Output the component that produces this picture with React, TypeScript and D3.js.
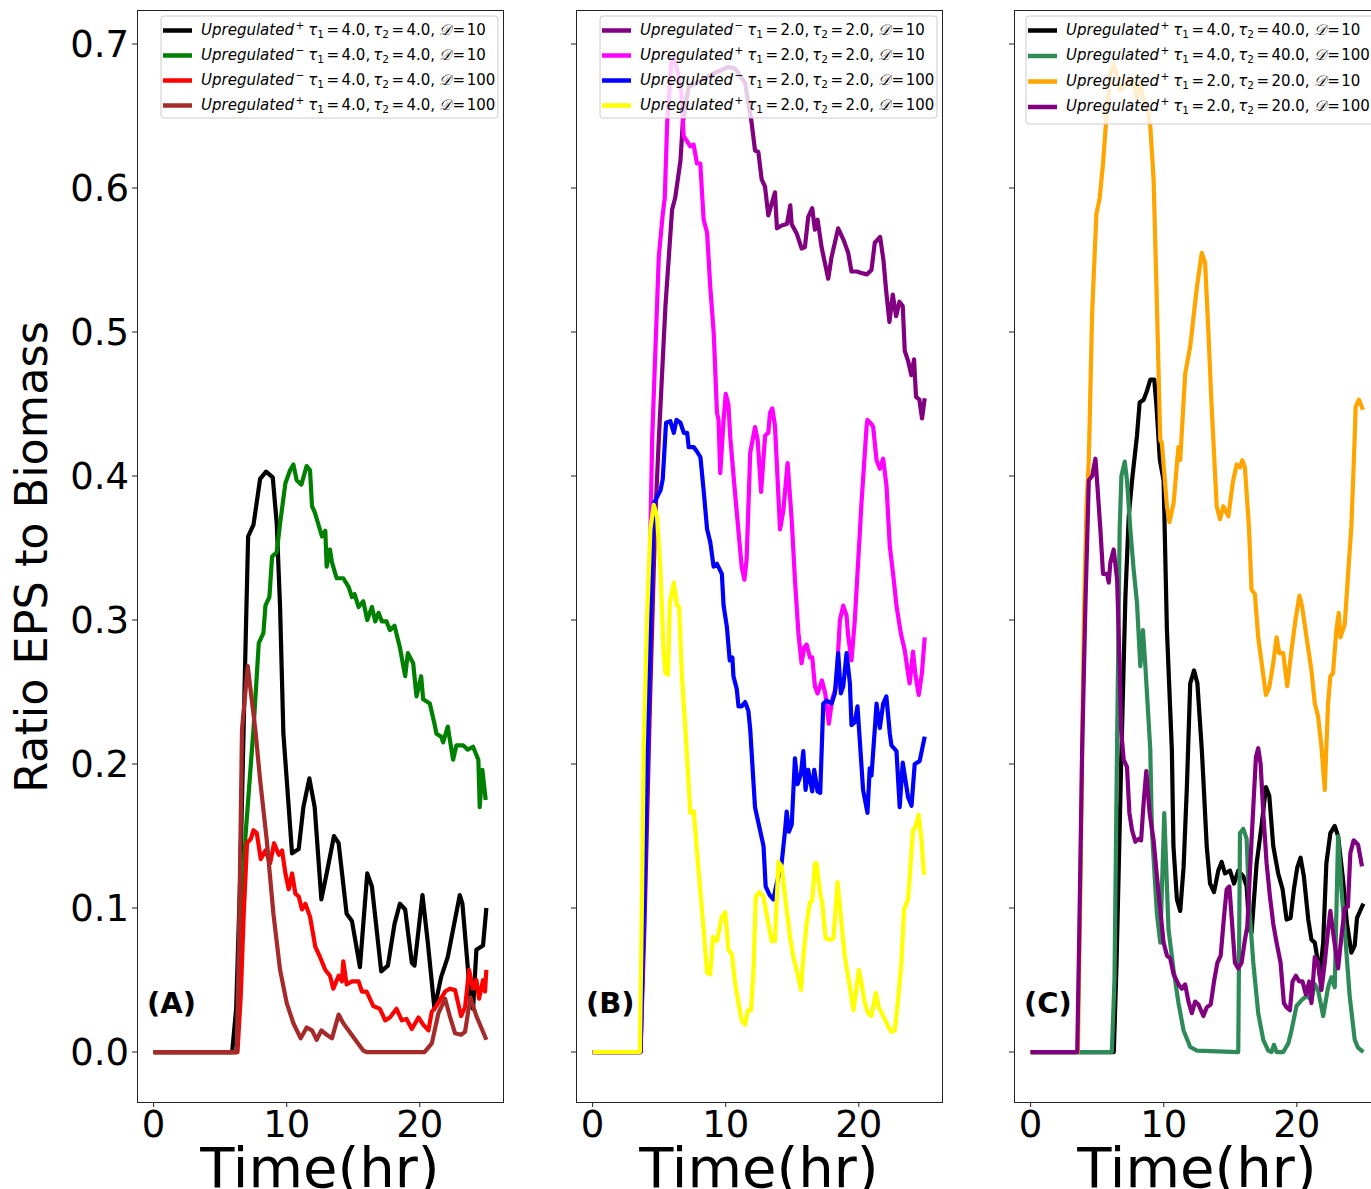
import React from "react";
import * as d3 from "d3";

// ---------- DATA (time in hr, ratio EPS to biomass) ----------
const A_black: [number, number][] = [[0,0],[5.9,0],[6.2,0.03],[6.5,0.12],[6.75,0.22],[6.95,0.3],[7.1,0.358],[7.5,0.366],[8.0,0.398],[8.45,0.403],[8.95,0.399],[9.25,0.367],[9.5,0.309],[9.75,0.221],[10.4,0.138],[10.9,0.141],[11.25,0.17],[11.7,0.19],[12.1,0.17],[12.6,0.106],[13.0,0.124],[13.55,0.15],[13.9,0.145],[14.5,0.096],[14.9,0.091],[15.5,0.059],[16.05,0.124],[16.4,0.115],[17.1,0.056],[17.6,0.06],[18.1,0.089],[18.5,0.103],[18.9,0.099],[19.4,0.062],[19.6,0.06],[20.2,0.109],[20.6,0.076],[21.1,0.03],[21.6,0.052],[22.1,0.066],[23.0,0.109],[23.2,0.103],[23.85,0.032],[24.0,0.03],[24.25,0.071],[24.75,0.074],[25.0,0.1]];
const A_green: [number, number][] = [[0,0],[6.25,0],[6.6,0.07],[6.9,0.15],[7.5,0.224],[7.9,0.284],[8.25,0.291],[8.4,0.31],[8.7,0.316],[8.9,0.344],[9.25,0.347],[9.5,0.367],[9.9,0.395],[10.25,0.404],[10.5,0.408],[10.75,0.397],[11.1,0.394],[11.5,0.407],[11.75,0.404],[11.9,0.379],[12.1,0.375],[12.65,0.358],[12.9,0.362],[13.0,0.337],[13.25,0.349],[13.4,0.34],[13.75,0.329],[14.25,0.329],[14.65,0.323],[14.9,0.316],[15.1,0.318],[15.4,0.309],[15.75,0.313],[16.05,0.3],[16.4,0.309],[16.65,0.299],[16.9,0.305],[17.15,0.299],[17.5,0.299],[17.75,0.293],[18.1,0.296],[18.5,0.281],[18.9,0.261],[19.1,0.277],[19.5,0.27],[19.75,0.247],[20.1,0.261],[20.25,0.245],[20.75,0.242],[21.1,0.228],[21.25,0.221],[21.6,0.219],[21.75,0.215],[22.1,0.226],[22.5,0.203],[22.75,0.213],[23.25,0.213],[23.6,0.21],[24.0,0.212],[24.4,0.203],[24.5,0.17],[24.7,0.196],[24.95,0.175]];
const A_red: [number, number][] = [[0,0],[6.3,0],[6.55,0.04],[6.77,0.096],[7.02,0.145],[7.3,0.148],[7.5,0.154],[7.75,0.152],[8.05,0.134],[8.4,0.14],[8.75,0.131],[9.05,0.145],[9.4,0.137],[9.65,0.14],[9.9,0.124],[10.15,0.113],[10.4,0.124],[10.65,0.11],[10.9,0.108],[11.15,0.099],[11.4,0.103],[11.75,0.094],[12.15,0.073],[12.5,0.066],[12.9,0.057],[13.25,0.053],[13.5,0.044],[13.9,0.053],[14.15,0.049],[14.25,0.063],[14.5,0.047],[14.9,0.049],[15.4,0.049],[15.65,0.042],[16.0,0.042],[16.5,0.032],[17.0,0.03],[17.4,0.022],[17.75,0.024],[18.25,0.03],[18.65,0.022],[19.0,0.023],[19.4,0.016],[19.9,0.024],[20.25,0.019],[20.65,0.015],[20.9,0.028],[21.25,0.032],[21.9,0.042],[22.25,0.044],[22.65,0.043],[23.1,0.025],[23.4,0.031],[23.7,0.057],[24.0,0.044],[24.25,0.05],[24.45,0.037],[24.75,0.05],[24.9,0.042],[25.0,0.057]];
const A_brown: [number, number][] = [[0,0],[6.25,0],[6.45,0.1],[6.64,0.224],[7.07,0.268],[7.64,0.224],[8.0,0.189],[8.5,0.147],[9.0,0.096],[9.5,0.057],[10.0,0.034],[10.5,0.02],[11.05,0.0095],[11.5,0.017],[11.9,0.015],[12.25,0.0085],[12.6,0.015],[13.0,0.012],[13.4,0.0095],[13.9,0.026],[14.25,0.02],[14.65,0.015],[15.15,0.0085],[15.75,0.001],[16,0],[20.35,0],[20.9,0.006],[21.4,0.027],[21.9,0.037],[22.25,0.025],[22.65,0.013],[23.1,0.012],[23.4,0.014],[23.8,0.038],[24.25,0.025],[25.0,0.0085]];

const B_purple: [number, number][] = [[0,0],[3.6,0],[3.9,0.09],[4.3,0.24],[4.7,0.37],[4.97,0.425],[5.47,0.518],[5.97,0.585],[6.2,0.593],[6.6,0.619],[6.77,0.645],[7.2,0.67],[8.2,0.675],[9.2,0.68],[10.2,0.684],[10.7,0.683],[11.45,0.673],[11.95,0.645],[12.2,0.626],[12.45,0.625],[12.7,0.606],[12.95,0.601],[13.2,0.581],[13.45,0.589],[13.7,0.597],[13.85,0.572],[14.2,0.574],[14.6,0.575],[14.85,0.588],[14.95,0.575],[15.35,0.568],[15.7,0.558],[15.95,0.559],[16.2,0.58],[16.5,0.586],[16.7,0.571],[16.9,0.578],[17.2,0.559],[17.7,0.537],[17.95,0.552],[18.45,0.572],[18.85,0.564],[19.2,0.555],[19.45,0.542],[19.85,0.542],[20.2,0.541],[20.6,0.54],[20.95,0.543],[21.2,0.562],[21.6,0.566],[21.85,0.55],[22.05,0.529],[22.3,0.507],[22.55,0.526],[22.8,0.511],[23.05,0.521],[23.3,0.518],[23.45,0.487],[23.7,0.48],[23.95,0.47],[24.15,0.481],[24.3,0.455],[24.55,0.453],[24.75,0.44],[24.95,0.454]];
const B_magenta: [number, number][] = [[0,0],[3.6,0],[3.8,0.08],[3.97,0.21],[4.22,0.3],[4.47,0.425],[4.97,0.552],[5.27,0.582],[5.42,0.593],[5.6,0.645],[5.9,0.687],[6.1,0.69],[6.4,0.68],[6.67,0.666],[6.84,0.636],[7.34,0.629],[7.59,0.63],[7.84,0.617],[8.09,0.617],[8.34,0.578],[8.6,0.569],[8.84,0.531],[9.1,0.499],[9.34,0.444],[9.46,0.439],[9.59,0.402],[9.84,0.439],[10.0,0.457],[10.2,0.45],[10.34,0.427],[10.7,0.388],[11.2,0.337],[11.4,0.328],[11.57,0.342],[11.84,0.416],[12.2,0.434],[12.4,0.425],[12.66,0.389],[12.96,0.428],[13.2,0.43],[13.33,0.444],[13.5,0.447],[13.7,0.435],[14.08,0.363],[14.33,0.376],[14.65,0.409],[14.96,0.369],[15.2,0.328],[15.46,0.291],[15.7,0.27],[15.9,0.281],[16.08,0.283],[16.33,0.274],[16.5,0.274],[16.7,0.254],[16.9,0.249],[17.23,0.258],[17.48,0.249],[17.75,0.228],[18.0,0.245],[18.3,0.254],[18.58,0.3],[18.83,0.31],[19.08,0.303],[19.2,0.289],[19.45,0.272],[19.7,0.3],[20.2,0.381],[20.58,0.434],[20.65,0.439],[20.96,0.436],[21.08,0.434],[21.33,0.411],[21.58,0.405],[21.83,0.412],[22.08,0.393],[22.33,0.351],[22.6,0.33],[22.83,0.31],[23.15,0.291],[23.45,0.279],[23.7,0.263],[23.82,0.256],[24.07,0.278],[24.24,0.263],[24.5,0.248],[24.74,0.263],[24.95,0.288]];
const B_blue: [number, number][] = [[0,0],[3.6,0],[3.85,0.1],[4.1,0.21],[4.34,0.3],[4.6,0.381],[4.92,0.387],[5.1,0.39],[5.27,0.398],[5.47,0.43],[5.52,0.437],[5.84,0.438],[6.1,0.43],[6.3,0.439],[6.6,0.437],[6.85,0.43],[7.1,0.43],[7.22,0.42],[7.6,0.42],[7.84,0.417],[8.1,0.413],[8.34,0.39],[8.6,0.363],[8.84,0.354],[9.09,0.337],[9.34,0.339],[9.71,0.332],[9.84,0.31],[10.09,0.295],[10.3,0.272],[10.5,0.274],[10.58,0.261],[10.83,0.252],[10.96,0.24],[11.2,0.24],[11.46,0.243],[11.7,0.237],[11.84,0.224],[12.2,0.17],[12.58,0.154],[12.84,0.143],[13.0,0.115],[13.3,0.109],[13.58,0.106],[13.83,0.117],[14.2,0.131],[14.46,0.154],[14.58,0.167],[14.75,0.153],[14.96,0.158],[15.2,0.204],[15.4,0.186],[15.65,0.193],[15.83,0.209],[16.0,0.182],[16.2,0.196],[16.5,0.181],[16.65,0.196],[16.9,0.181],[17.1,0.18],[17.33,0.242],[17.58,0.244],[17.96,0.242],[18.2,0.249],[18.45,0.277],[18.65,0.249],[18.83,0.254],[19.08,0.277],[19.33,0.256],[19.45,0.227],[19.7,0.229],[19.9,0.24],[20.07,0.217],[20.32,0.182],[20.65,0.166],[20.82,0.197],[20.95,0.192],[21.2,0.224],[21.33,0.242],[21.58,0.225],[21.83,0.242],[22.07,0.247],[22.33,0.221],[22.45,0.213],[22.83,0.209],[23.07,0.17],[23.3,0.201],[23.7,0.177],[23.96,0.171],[24.2,0.2],[24.57,0.202],[24.95,0.219]];
const B_yellow: [number, number][] = [[0,0],[3.55,0],[3.7,0.1],[3.84,0.21],[4.09,0.3],[4.34,0.363],[4.59,0.38],[4.84,0.372],[5.09,0.335],[5.34,0.277],[5.47,0.263],[5.67,0.262],[5.8,0.312],[6.1,0.326],[6.34,0.31],[6.5,0.309],[6.7,0.263],[6.97,0.224],[7.34,0.166],[7.6,0.167],[7.96,0.126],[8.34,0.085],[8.6,0.055],[8.84,0.054],[9.04,0.08],[9.34,0.077],[9.71,0.094],[9.96,0.097],[10.2,0.071],[10.46,0.068],[10.7,0.048],[10.96,0.034],[11.2,0.022],[11.46,0.019],[11.66,0.029],[11.9,0.029],[12.09,0.057],[12.26,0.108],[12.5,0.111],[12.84,0.108],[13.1,0.094],[13.46,0.077],[13.7,0.077],[13.96,0.132],[14.2,0.129],[14.46,0.108],[14.83,0.08],[15.08,0.066],[15.33,0.057],[15.66,0.043],[15.83,0.066],[16.08,0.089],[16.33,0.104],[16.5,0.105],[16.7,0.131],[16.83,0.131],[17.1,0.11],[17.25,0.104],[17.5,0.079],[17.85,0.078],[18.1,0.079],[18.4,0.118],[18.65,0.094],[18.95,0.066],[19.33,0.045],[19.6,0.029],[20.0,0.057],[20.2,0.048],[20.45,0.034],[20.7,0.027],[20.95,0.025],[21.28,0.041],[21.5,0.031],[21.83,0.025],[22.2,0.018],[22.45,0.014],[22.7,0.015],[22.95,0.036],[23.2,0.062],[23.4,0.099],[23.7,0.106],[23.9,0.131],[24.07,0.154],[24.24,0.156],[24.5,0.165],[24.7,0.148],[24.9,0.123]];

const C_black: [number, number][] = [[0,0],[6.25,0],[6.45,0.06],[6.8,0.2],[7.12,0.316],[7.37,0.372],[7.62,0.397],[7.99,0.428],[8.19,0.451],[8.49,0.453],[8.74,0.459],[8.99,0.467],[9.29,0.467],[9.46,0.448],[9.71,0.411],[9.99,0.397],[10.24,0.293],[10.61,0.21],[10.73,0.143],[10.99,0.106],[11.24,0.098],[11.49,0.128],[11.74,0.184],[11.99,0.256],[12.28,0.265],[12.53,0.256],[12.86,0.21],[12.98,0.189],[13.23,0.143],[13.48,0.117],[13.78,0.111],[14.1,0.126],[14.35,0.132],[14.6,0.124],[14.98,0.126],[15.28,0.117],[15.6,0.126],[15.98,0.122],[16.23,0.115],[16.43,0.085],[16.6,0.083],[16.98,0.131],[17.35,0.157],[17.68,0.184],[17.93,0.178],[18.23,0.143],[18.6,0.124],[18.93,0.113],[19.23,0.092],[19.53,0.093],[19.78,0.113],[20.03,0.128],[20.28,0.135],[20.53,0.122],[20.86,0.092],[21.1,0.078],[21.35,0.076],[21.6,0.062],[21.73,0.053],[21.98,0.076],[22.22,0.131],[22.52,0.152],[22.85,0.157],[23.1,0.15],[23.47,0.12],[23.77,0.089],[24.1,0.069],[24.35,0.074],[24.52,0.093],[24.85,0.1],[25.0,0.103]];
const C_green: [number, number][] = [[0,0],[6.1,0],[6.3,0.05],[6.49,0.21],[6.69,0.363],[6.82,0.4],[7.07,0.41],[7.24,0.397],[7.49,0.363],[7.74,0.335],[7.99,0.312],[8.24,0.268],[8.44,0.293],[8.62,0.268],[8.99,0.21],[9.11,0.154],[9.49,0.096],[9.74,0.076],[10.04,0.166],[10.36,0.085],[10.74,0.057],[11.11,0.034],[11.49,0.015],[11.99,0.0035],[12.5,0.001],[15.6,0],[15.73,0.152],[15.98,0.155],[16.23,0.148],[16.43,0.1],[16.73,0.062],[17.1,0.027],[17.48,0.0085],[17.85,0.001],[18.1,0],[18.28,0.005],[18.48,0],[18.98,0],[19.36,0.006],[19.6,0.015],[19.98,0.032],[20.36,0.036],[20.73,0.039],[21.1,0.036],[21.35,0.047],[21.6,0.043],[21.98,0.025],[22.35,0.045],[22.6,0.052],[22.85,0.045],[23.1,0.15],[23.35,0.113],[23.6,0.085],[23.97,0.039],[24.35,0.0085],[24.6,0.003],[25,0]];
const C_orange: [number, number][] = [[0,0],[3.55,0],[3.75,0.12],[4.0,0.3],[4.2,0.38],[4.37,0.411],[4.62,0.513],[4.94,0.582],[5.19,0.593],[5.44,0.617],[5.7,0.65],[6.0,0.68],[6.24,0.686],[6.5,0.678],[6.69,0.668],[6.99,0.67],[7.37,0.675],[7.7,0.675],[7.94,0.663],[8.2,0.673],[8.44,0.663],[8.74,0.657],[8.99,0.643],[9.24,0.606],[9.49,0.518],[9.74,0.425],[9.86,0.423],[10.24,0.379],[10.43,0.368],[10.74,0.381],[11.1,0.42],[11.24,0.411],[11.61,0.471],[11.99,0.49],[12.49,0.531],[12.86,0.555],[13.11,0.548],[13.36,0.499],[13.6,0.448],[13.73,0.425],[13.98,0.379],[14.23,0.37],[14.48,0.379],[14.86,0.372],[15.18,0.395],[15.48,0.408],[15.73,0.406],[15.9,0.411],[16.1,0.406],[16.4,0.365],[16.6,0.321],[16.85,0.318],[17.1,0.288],[17.36,0.27],[17.68,0.248],[17.93,0.253],[18.23,0.27],[18.48,0.288],[18.68,0.277],[18.98,0.277],[19.28,0.254],[19.6,0.279],[19.93,0.302],[20.2,0.317],[20.4,0.309],[20.73,0.288],[21.1,0.265],[21.35,0.242],[21.6,0.233],[21.85,0.212],[22.1,0.182],[22.22,0.212],[22.35,0.242],[22.52,0.261],[22.72,0.263],[22.97,0.293],[23.15,0.305],[23.28,0.288],[23.6,0.297],[23.84,0.33],[24.1,0.365],[24.35,0.427],[24.42,0.448],[24.67,0.453],[24.97,0.446]];
const C_purple: [number, number][] = [[0,0],[3.5,0],[3.65,0.08],[3.87,0.21],[4.12,0.312],[4.37,0.397],[4.62,0.4],[4.87,0.412],[5.04,0.39],[5.24,0.363],[5.44,0.332],[5.74,0.332],[5.87,0.326],[5.99,0.34],[6.24,0.349],[6.5,0.328],[6.68,0.27],[6.8,0.224],[6.99,0.203],[7.24,0.198],[7.42,0.166],[7.62,0.154],[7.87,0.146],[8.12,0.148],[8.3,0.147],[8.49,0.173],[8.69,0.195],[8.94,0.166],[9.24,0.147],[9.49,0.122],[9.74,0.099],[9.99,0.076],[10.24,0.067],[10.49,0.065],[10.74,0.054],[11.11,0.047],[11.36,0.044],[11.61,0.047],[11.86,0.035],[12.11,0.027],[12.36,0.035],[12.61,0.033],[12.98,0.025],[13.23,0.031],[13.53,0.033],[13.78,0.049],[14.03,0.062],[14.28,0.067],[14.53,0.094],[14.73,0.113],[14.93,0.115],[15.1,0.094],[15.35,0.062],[15.6,0.058],[15.85,0.062],[16.1,0.078],[16.28,0.087],[16.48,0.126],[16.73,0.17],[16.93,0.205],[17.1,0.211],[17.28,0.2],[17.48,0.166],[17.73,0.131],[17.98,0.108],[18.23,0.089],[18.48,0.076],[18.78,0.062],[19.03,0.034],[19.23,0.031],[19.48,0.029],[19.68,0.049],[19.93,0.053],[20.18,0.049],[20.43,0.049],[20.68,0.04],[20.93,0.049],[21.1,0.034],[21.35,0.066],[21.6,0.062],[21.85,0.043],[22.1,0.062],[22.35,0.085],[22.52,0.098],[22.77,0.08],[23.1,0.058],[23.35,0.08],[23.6,0.1],[23.84,0.101],[24.02,0.138],[24.27,0.147],[24.6,0.144],[24.9,0.129]];

// legend parameters
const A_signs = ["+", "\u2212", "\u2212", "+"];
const A_tau1 = ["4.0", "4.0", "4.0", "4.0"];
const A_tau2 = ["4.0", "4.0", "4.0", "4.0"];
const A_D = ["10", "10", "100", "100"];
const B_signs = ["\u2212", "+", "\u2212", "+"];
const B_tau1 = ["2.0", "2.0", "2.0", "2.0"];
const B_tau2 = ["2.0", "2.0", "2.0", "2.0"];
const B_D = ["10", "10", "100", "100"];
const C_signs = ["+", "+", "+", "+"];
const C_tau1 = ["4.0", "4.0", "2.0", "2.0"];
const C_tau2 = ["40.0", "40.0", "20.0", "20.0"];
const C_D = ["10", "100", "10", "100"];

const xTicks = [0, 10, 20];
const yTicks = [0.0, 0.1, 0.2, 0.3, 0.4, 0.5, 0.6, 0.7];
const panelTags = ["(A)", "(B)", "(C)"];

// ---------- LAYOUT ----------
const W = 1371, H = 1189;
const PANEL_LEFTS = [137, 576, 1014];
const PANEL_W = 366;
const TOP = 10, BOTTOM = 1102;
const X_DOMAIN: [number, number] = [-1.25, 26.25];
const Y_DOMAIN: [number, number] = [-0.0347, 0.7236];
const FONT = "DejaVu Sans, sans-serif";
const LEG_FS = 15;

type Series = { data: [number, number][]; color: string };

const panels = [
  {
    series: [
      { data: A_black, color: "#000000" },
      { data: A_green, color: "#008000" },
      { data: A_red, color: "#ff0000" },
      { data: A_brown, color: "#a52a2a" },
    ] as Series[],
    signs: A_signs, tau1: A_tau1, tau2: A_tau2, D: A_D, legW: 337, legH: 102, rowGap: 25,
  },
  {
    series: [
      { data: B_purple, color: "#800080" },
      { data: B_magenta, color: "#ff00ff" },
      { data: B_blue, color: "#0000ff" },
      { data: B_yellow, color: "#ffff00" },
    ] as Series[],
    signs: B_signs, tau1: B_tau1, tau2: B_tau2, D: B_D, legW: 337, legH: 102, rowGap: 25,
  },
  {
    series: [
      { data: C_black, color: "#000000" },
      { data: C_green, color: "#2e8b57" },
      { data: C_orange, color: "#ffa500" },
      { data: C_purple, color: "#800080" },
    ] as Series[],
    signs: C_signs, tau1: C_tau1, tau2: C_tau2, D: C_D, legW: 349, legH: 108, rowGap: 25.5,
  },
];

function LegendLabel({ x, y, sign, t1, t2, d }: { x: number; y: number; sign: string; t1: string; t2: string; d: string }) {
  const fs = LEG_FS;
  const small = fs * 0.7;
  return (
    <text x={x} y={y} fontFamily={FONT} fontSize={fs} fill="#000" style={{ whiteSpace: "pre" }}>
      <tspan fontStyle="italic">Upregulated</tspan>
      <tspan fontSize={small} dx={1.5} dy={-6}>{sign}</tspan>
      <tspan fontStyle="italic" dx={4} dy={6}>τ</tspan>
      <tspan fontSize={small} dy={3}>1</tspan>
      <tspan dx={2.5} dy={-3}>=</tspan>
      <tspan dx={2.5}>{t1 + ","}</tspan>
      <tspan fontStyle="italic" dx={3}>τ</tspan>
      <tspan fontSize={small} dy={3}>2</tspan>
      <tspan dx={2.5} dy={-3}>=</tspan>
      <tspan dx={2.5}>{t2 + ","}</tspan>
      <tspan dx={4} fontFamily="DejaVu Serif, serif" fontStyle="italic">{"\uD835\uDC9F"}</tspan>
      <tspan dx={1.5}>=</tspan>
      <tspan dx={1.5}>{d}</tspan>
    </text>
  );
}

function Panel({ idx }: { idx: number }) {
  const p = panels[idx];
  const left = PANEL_LEFTS[idx];
  const right = left + PANEL_W;
  const x = d3.scaleLinear().domain(X_DOMAIN).range([left, right]);
  const y = d3.scaleLinear().domain(Y_DOMAIN).range([BOTTOM, TOP]);
  const line = d3
    .line<[number, number]>()
    .x((d) => x(d[0]))
    .y((d) => y(d[1]));
  const clipId = `clip${idx}`;
  const legX = right - 5 - p.legW;
  const legY = TOP + 6;
  return (
    <g>
      <defs>
        <clipPath id={clipId}>
          <rect x={left} y={TOP} width={PANEL_W} height={BOTTOM - TOP} />
        </clipPath>
      </defs>
      <rect x={left} y={TOP} width={PANEL_W} height={BOTTOM - TOP} fill="#fff" />
      <g clipPath={`url(#${clipId})`}>
        {p.series.map((s, i) => (
          <path key={i} d={line(s.data) || ""} fill="none" stroke={s.color} strokeWidth={4.2} strokeLinejoin="round" strokeLinecap="butt" />
        ))}
        {/* legend */}
        <rect x={legX} y={legY} width={p.legW} height={p.legH} rx={3} fill="#fff" fillOpacity={0.8} stroke="#cccccc" strokeWidth={1} />
        {p.series.map((s, i) => {
          const cy = legY + 14.5 + i * p.rowGap;
          return (
            <g key={i}>
              <line x1={legX + 2} x2={legX + 31} y1={cy} y2={cy} stroke={s.color} strokeWidth={4.5} />
              <LegendLabel x={legX + 40} y={cy + 4} sign={p.signs[i]} t1={p.tau1[i]} t2={p.tau2[i]} d={p.D[i]} />
            </g>
          );
        })}
      </g>
      {/* frame */}
      <rect x={left} y={TOP} width={PANEL_W} height={BOTTOM - TOP} fill="none" stroke="#222" strokeWidth={1} shapeRendering="crispEdges" />
      {/* y ticks */}
      {yTicks.map((t) => (
        <g key={t}>
          <line x1={left - 5} x2={left} y1={y(t)} y2={y(t)} stroke="#222" strokeWidth={1} />
          {idx === 0 && (
            <text x={left - 8} y={y(t) + 13} textAnchor="end" fontFamily={FONT} fontSize={37}>
              {t.toFixed(1)}
            </text>
          )}
        </g>
      ))}
      {/* x ticks */}
      {xTicks.map((t) => (
        <g key={t}>
          <line x1={x(t)} x2={x(t)} y1={BOTTOM} y2={BOTTOM + 5} stroke="#222" strokeWidth={1} />
          <text x={x(t)} y={BOTTOM + 35} textAnchor="middle" fontFamily={FONT} fontSize={37}>
            {t}
          </text>
        </g>
      ))}
      <text x={(left + right) / 2} y={1187} textAnchor="middle" fontFamily={FONT} fontSize={56}>
        Time(hr)
      </text>
      <text x={left + 10} y={1013} fontFamily={FONT} fontSize={29} fontWeight="bold">
        {panelTags[idx]}
      </text>
    </g>
  );
}

export default function App() {
  return (
    <svg width={W} height={H} style={{ position: "absolute", left: 0, top: 0, background: "#fff" }}>
      <rect x={0} y={0} width={W} height={H} fill="#fff" />
      {panels.map((_, i) => (
        <Panel key={i} idx={i} />
      ))}
      <text transform={`translate(47,557) rotate(-90)`} textAnchor="middle" fontFamily={FONT} fontSize={44.5}>
        Ratio EPS to Biomass
      </text>
    </svg>
  );
}
